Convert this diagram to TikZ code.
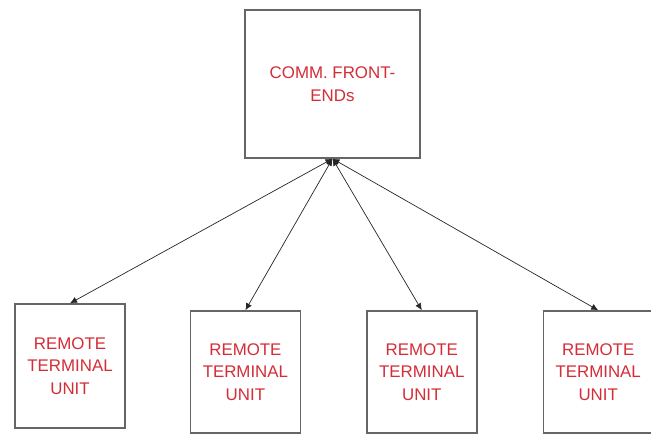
\documentclass[tikz,border=0pt]{standalone}
\usepackage{fontspec}
\setmainfont{Liberation Sans}
\usetikzlibrary{positioning,arrows.meta}

\definecolor{labelred}{RGB}{212,45,55}

\begin{document}
\begin{tikzpicture}[
  font=\fontsize{12}{16}\selectfont,
  unit/.style={draw=black!60, line width=1pt, fill=white, text=labelred, align=center, minimum width=2.75cm, minimum height=3.05cm},
  link/.style={{Latex[length=5pt,width=4.5pt]}-{Latex[length=5pt,width=4.5pt]}, draw=black!85, line width=0.5pt}
]
\useasboundingbox (0,0) rectangle (16.275,10.85);

\node[unit, minimum width=4.375cm, minimum height=3.7cm] (fe) at (8.3125,8.75) {COMM. FRONT-\\ENDs};

% the four terminal units along the bottom
\node[unit, minimum height=3.1cm] (rtu1) at (1.75,1.7) {REMOTE\\TERMINAL\\UNIT};
\node[unit, right=1.6cm of rtu1, yshift=-0.15cm] (rtu2) {REMOTE\\TERMINAL\\UNIT};
\node[unit, right=1.625cm of rtu2] (rtu3) {REMOTE\\TERMINAL\\UNIT};
\node[unit, right=1.625cm of rtu3] (rtu4) {REMOTE\\TERMINAL\\UNIT};

\foreach \n in {rtu1,rtu2,rtu3,rtu4}
  \draw[link] (fe.south) -- (\n.north);
\end{tikzpicture}
\end{document}
